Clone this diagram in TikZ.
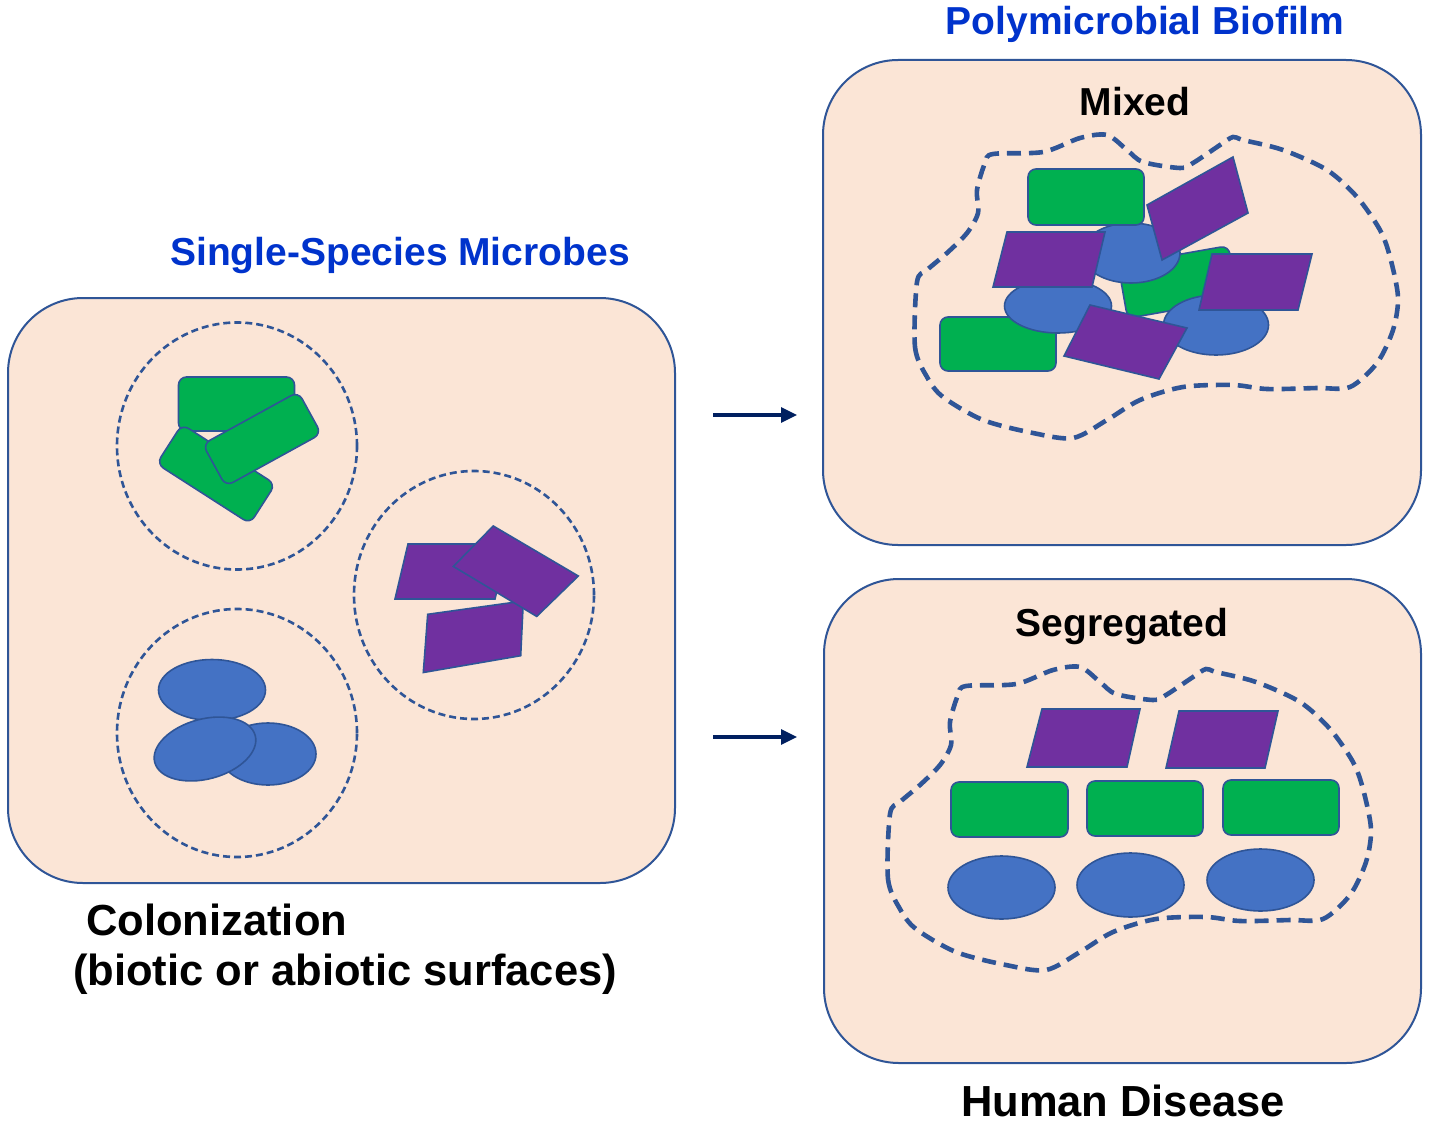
\documentclass[tikz,border=0pt]{standalone}
\usepackage{fontspec}
\setmainfont{Liberation Sans}
\usetikzlibrary{shapes.geometric,arrows.meta}
\definecolor{peach}{HTML}{FBE5D6}
\definecolor{edge}{HTML}{2F5597}
\definecolor{grn}{HTML}{00B050}
\definecolor{purp}{HTML}{7030A0}
\definecolor{blu}{HTML}{4472C4}
\definecolor{navy}{HTML}{002060}
\definecolor{ttl}{HTML}{0033CC}
\tikzset{
  panel/.style={draw=edge, fill=peach, line width=2pt, rounded corners=75pt, minimum width=#1, inner sep=0pt},
  greencell/.style={draw=edge, fill=grn, line width=1.6pt, rounded corners=8pt, inner sep=0pt},
  bluecell/.style={draw=edge, fill=blu, line width=1.6pt, ellipse, inner sep=0pt},
  purplecell/.style={draw=edge, fill=purp, line width=1.6pt, line join=miter},
  colony/.style={draw=edge, ellipse, line width=2.6pt, dash pattern=on 7pt off 4pt, inner sep=0pt},
  blobline/.style={draw=edge, line width=4.6pt, dash pattern=on 14pt off 8pt},
  flow/.style={draw=navy, line width=3.2pt, -{Triangle[length=16pt,width=15pt]}},
  bluetitle/.style={text=ttl, font=\fontsize{39}{47}\selectfont\bfseries, inner sep=0pt},
  subtitle/.style={text=black, font=\fontsize{39}{47}\selectfont\bfseries, inner sep=0pt},
  caption/.style={text=black, font=\fontsize{43.5}{52}\selectfont\bfseries, inner sep=0pt},
}
\newcommand\blobshape{plot[smooth cycle, tension=0.5] coordinates {
 (917,282) (915,347) (927,377) (943,397) (983,420) (1033,433) (1073,438)
 (1107,420) (1140,400) (1183,387) (1233,385) (1267,389) (1317,388) (1350,387)
 (1377,363) (1393,330) (1398,297) (1390,257) (1380,230) (1357,197) (1327,170)
 (1283,150) (1243,140) (1233,137) (1220,145) (1193,163) (1180,168) (1143,162)
 (1127,150) (1107,135) (1080,138) (1043,152) (993,154) (985,163) (977,190)
 (978,213) (967,233) (947,253) (927,270)}}
\begin{document}
\begin{tikzpicture}[x=1pt,y=-1pt]
\useasboundingbox (0,0) rectangle (1429,1124);
% panels
\node[panel=667pt, minimum height=585pt] (lbox) at (341.5,590.5) {};
\node[panel=598pt, minimum height=485pt] (mixbox) at (1122,302.5) {};
\node[panel=597pt, minimum height=484pt] (segbox) at (1122.5,821) {};
% titles
\node[bluetitle, anchor=base] (tsingle) at (400,265) {Single-Species Microbes};
\node[bluetitle, anchor=base] (tpoly) at (1145,35) {Polymicrobial Biofilm};
\node[subtitle, anchor=base] (tmixed) at (1135,115) {Mixed};
\node[subtitle, anchor=base] (tseg) at (1122,636) {Segregated};
\node[caption, anchor=base west] (tcol) at (86,935) {Colonization};
\node[caption, anchor=base west] (tsurf) at (73,985) {(biotic or abiotic surfaces)};
\node[caption, anchor=base] (thuman) at (1123,1116) {Human Disease};
% arrows
\coordinate (a1s) at (713,415); \coordinate (a1e) at (797,415);
\coordinate (a2s) at (713,737); \coordinate (a2e) at (797,737);
\draw[flow] (a1s) -- (a1e);
\draw[flow] (a2s) -- (a2e);
% colonies on the left
\node[colony, minimum width=240pt, minimum height=247pt] (c1) at (237,446) {};
\node[colony, minimum width=240pt, minimum height=248pt] (c2) at (474,595) {};
\node[colony, minimum width=240pt, minimum height=248pt] (c3) at (237,733) {};
% green colony
\node[greencell, minimum width=116pt, minimum height=54pt] (ga) at (236.5,404) {};
\node[greencell, minimum width=111pt, minimum height=47pt, rotate=-32.7] (gb) at (216,474) {};
\node[greencell, minimum width=109pt, minimum height=48pt, rotate=28.8] (gc) at (262,439) {};
% purple colony
\draw[purplecell] (408,544) -- (508,544) -- (495,599) -- (395,599) -- cycle;
\draw[purplecell] (427.7,614.3) -- (523.3,601) -- (520.7,655.7) -- (423.3,672.5) -- cycle;
\draw[purplecell] (453.3,566.4) -- (493.3,526) -- (578.3,576) -- (536.7,616.4) -- cycle;
% blue colony
\node[bluecell, minimum width=107pt, minimum height=61pt] (ea) at (212,690) {};
\node[bluecell, minimum width=96pt, minimum height=62pt] (eb) at (268,754) {};
\node[bluecell, minimum width=104pt, minimum height=60pt, rotate=15] (ec) at (205,749) {};
% mixed biofilm
\draw[blobline] \blobshape;
\node[greencell, minimum width=112pt, minimum height=54pt, rotate=10] (mg3) at (1178,282) {};
\node[bluecell, minimum width=98pt, minimum height=60pt] (mb1) at (1131,253) {};
\node[greencell, minimum width=116pt, minimum height=56pt] (mg1) at (1086,197) {};
\draw[purplecell] (1147,205) -- (1233,157) -- (1248,213) -- (1162,260) -- cycle;
\node[greencell, minimum width=116pt, minimum height=54pt] (mg2) at (998,344) {};
\node[bluecell, minimum width=107pt, minimum height=54pt] (mb2) at (1058,306) {};
\draw[purplecell] (1007,232) -- (1105,232) -- (1092,287) -- (993,287) -- cycle;
\node[bluecell, minimum width=105pt, minimum height=60pt] (mb3) at (1216,325) {};
\draw[purplecell] (1212,254) -- (1312,254) -- (1298,310) -- (1199,310) -- cycle;
\draw[purplecell] (1090,305) -- (1187,328) -- (1159,379) -- (1064,356) -- cycle;
% segregated biofilm
\draw[blobline, shift={(-27,532)}] \blobshape;
\draw[purplecell] (1042,709) -- (1140,709) -- (1127,767) -- (1027,767) -- cycle;
\draw[purplecell] (1179,711) -- (1278,711) -- (1265,768) -- (1166,768) -- cycle;
\node[greencell, minimum width=117pt, minimum height=55pt] (sg1) at (1009.5,809.5) {};
\node[greencell, minimum width=116pt, minimum height=55pt] (sg2) at (1145,808.5) {};
\node[greencell, minimum width=116pt, minimum height=55pt] (sg3) at (1281,807.5) {};
\node[bluecell, minimum width=107pt, minimum height=63pt] (sb1) at (1001.5,887.5) {};
\node[bluecell, minimum width=107pt, minimum height=64pt] (sb2) at (1130.5,885) {};
\node[bluecell, minimum width=107pt, minimum height=62pt] (sb3) at (1260.5,880) {};
\end{tikzpicture}
\end{document}
